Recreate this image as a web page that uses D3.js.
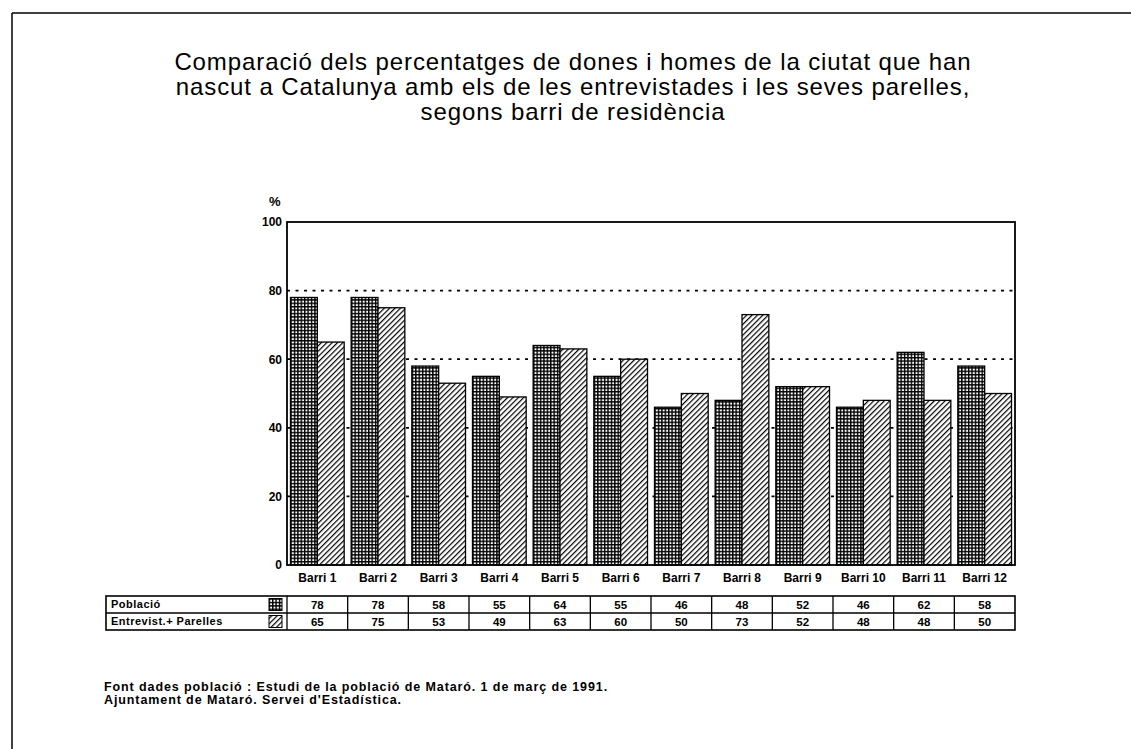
<!DOCTYPE html>
<html>
<head>
<meta charset="utf-8">
<script src="https://cdn.jsdelivr.net/npm/d3@7.9.0/dist/d3.min.js"></script>
<style>
  body { margin: 0; background: #fff; }
  svg { display: block; font-family: "Liberation Sans", Arial, sans-serif; }
</style>
</head>
<body>
<div id="chart"></div>
<script>
// data
const barris = ["Barri 1", "Barri 2", "Barri 3", "Barri 4", "Barri 5", "Barri 6",
  "Barri 7", "Barri 8", "Barri 9", "Barri 10", "Barri 11", "Barri 12"];
const poblacio = [78, 78, 58, 55, 64, 55, 46, 48, 52, 46, 62, 58];
const entrevistes = [65, 75, 53, 49, 63, 60, 50, 73, 52, 48, 48, 50];
const seriesNames = ["Població", "Entrevist.+ Parelles"];
const yTicks = [0, 20, 40, 60, 80, 100];
const titleLines = [
  "Comparació dels percentatges de dones i homes de la ciutat que han",
  "nascut a Catalunya amb els de les entrevistades i les seves parelles,",
  "segons barri de residència"
];
const footLines = [
  "Font dades població : Estudi de la població de Mataró. 1 de març de 1991.",
  "Ajuntament de Mataró. Servei d'Estadística."
];

const W = 1131, H = 749;
const plot = { left: 287, right: 1015, top: 222, bottom: 565 };

const svg = d3.select("#chart").append("svg")
  .attr("width", W).attr("height", H);

// patterns
const defs = svg.append("defs");
const grid = defs.append("pattern")
  .attr("id", "grid").attr("patternUnits", "userSpaceOnUse")
  .attr("width", 3.4).attr("height", 3.4);
grid.append("rect").attr("width", 3.4).attr("height", 3.4).attr("fill", "#fff");
grid.append("rect").attr("width", 1.4).attr("height", 3.4).attr("fill", "#000");
grid.append("rect").attr("width", 3.4).attr("height", 1.4).attr("fill", "#000");

const hatch = defs.append("pattern")
  .attr("id", "hatch").attr("patternUnits", "userSpaceOnUse")
  .attr("width", 3.8).attr("height", 3.8)
  .attr("patternTransform", "rotate(45)");
hatch.append("rect").attr("width", 3.8).attr("height", 3.8).attr("fill", "#fff");
hatch.append("rect").attr("width", 1.2).attr("height", 3.8).attr("fill", "#000");

const fills = ["url(#grid)", "url(#hatch)"];

// page frame (top and left only visible)
svg.append("line").attr("x1", 12).attr("x2", W).attr("y1", 13).attr("y2", 13)
  .attr("stroke", "#000").attr("stroke-width", 1.5);
svg.append("line").attr("x1", 12).attr("x2", 12).attr("y1", 13).attr("y2", H)
  .attr("stroke", "#000").attr("stroke-width", 1.5);

// title
svg.append("g").selectAll("text").data(titleLines).join("text")
  .attr("x", 573).attr("y", (d, i) => 70 + i * 25)
  .attr("text-anchor", "middle")
  .style("font-size", "24px")
  .style("letter-spacing", "0.9px")
  .text(d => d);

// scales
const x0 = d3.scaleBand().domain(barris).range([plot.left, plot.right]).paddingInner(0).paddingOuter(0);
const x1 = d3.scaleBand().domain([0, 1]).range([0, x0.bandwidth()]).paddingOuter(0.13).paddingInner(0);
const y = d3.scaleLinear().domain([0, 100]).range([plot.bottom, plot.top]);

// dotted gridlines
svg.append("g").selectAll("line").data(yTicks.filter(t => t > 0 && t < 100)).join("line")
  .attr("x1", plot.left).attr("x2", plot.right)
  .attr("y1", d => y(d)).attr("y2", d => y(d))
  .attr("stroke", "#000").attr("stroke-width", 1.8)
  .attr("stroke-dasharray", "3,5.5");

// bars
const groups = svg.append("g").selectAll("g").data(barris).join("g")
  .attr("transform", d => `translate(${x0(d)},0)`);
groups.selectAll("rect")
  .data((d, i) => [poblacio[i], entrevistes[i]].map((v, k) => ({ k, v })))
  .join("rect")
  .attr("x", d => x1(d.k))
  .attr("y", d => y(d.v))
  .attr("width", x1.bandwidth())
  .attr("height", d => y(0) - y(d.v))
  .attr("fill", d => fills[d.k])
  .attr("stroke", "#000").attr("stroke-width", 1.3);

// plot frame
svg.append("rect")
  .attr("x", plot.left).attr("y", plot.top)
  .attr("width", plot.right - plot.left).attr("height", plot.bottom - plot.top)
  .attr("fill", "none").attr("stroke", "#000").attr("stroke-width", 1.8);

// y axis
const yAxis = svg.append("g")
  .attr("transform", `translate(${plot.left},0)`)
  .call(d3.axisLeft(y).tickValues(yTicks).tickSize(0).tickPadding(5));
yAxis.select(".domain").remove();
yAxis.selectAll("text")
  .style("font-size", "12px").style("font-weight", "bold")
  .style("font-family", "Liberation Sans, Arial, sans-serif");
svg.append("text").attr("x", 269).attr("y", 206)
  .style("font-size", "13px").style("font-weight", "bold").text("%");

// x axis labels
const xAxis = svg.append("g")
  .attr("transform", `translate(0,${plot.bottom})`)
  .call(d3.axisBottom(x0).tickSize(0).tickPadding(8));
xAxis.select(".domain").remove();
xAxis.selectAll("text")
  .style("font-size", "12px").style("font-weight", "bold")
  .style("font-family", "Liberation Sans, Arial, sans-serif");

// data table
const tbl = { left: 106, top: 596, rowH: 17 };
const rows = [poblacio, entrevistes];
const tg = svg.append("g");
tg.append("rect")
  .attr("x", tbl.left).attr("y", tbl.top)
  .attr("width", plot.right - tbl.left).attr("height", tbl.rowH * 2)
  .attr("fill", "none").attr("stroke", "#000").attr("stroke-width", 1.6);
tg.append("line")
  .attr("x1", tbl.left).attr("x2", plot.right)
  .attr("y1", tbl.top + tbl.rowH).attr("y2", tbl.top + tbl.rowH)
  .attr("stroke", "#000").attr("stroke-width", 1.3);
tg.selectAll("line.col").data(barris).join("line").attr("class", "col")
  .attr("x1", d => x0(d)).attr("x2", d => x0(d))
  .attr("y1", tbl.top).attr("y2", tbl.top + tbl.rowH * 2)
  .attr("stroke", "#000").attr("stroke-width", 1.3);

rows.forEach((vals, r) => {
  const cy = tbl.top + tbl.rowH * r + tbl.rowH / 2;
  tg.append("text").attr("x", tbl.left + 5).attr("y", cy).attr("dy", "0.35em")
    .style("font-size", "11px").style("font-weight", "bold")
    .style("letter-spacing", "0.5px")
    .text(seriesNames[r]);
  tg.append("rect")
    .attr("x", plot.left - 18).attr("y", cy - 6).attr("width", 13).attr("height", 12)
    .attr("fill", fills[r]).attr("stroke", "#000").attr("stroke-width", 1);
  tg.selectAll(null).data(vals).join("text")
    .attr("x", (d, i) => x0(barris[i]) + x0.bandwidth() / 2)
    .attr("y", cy).attr("dy", "0.35em")
    .attr("text-anchor", "middle")
    .style("font-size", "11.5px").style("font-weight", "bold")
    .text(d => d);
});

// source note
svg.append("g").selectAll("text").data(footLines).join("text")
  .attr("x", 104).attr("y", (d, i) => 691 + i * 13)
  .style("font-size", "12.5px").style("font-weight", "bold")
  .style("letter-spacing", "0.9px")
  .text(d => d);
</script>
</body>
</html>
